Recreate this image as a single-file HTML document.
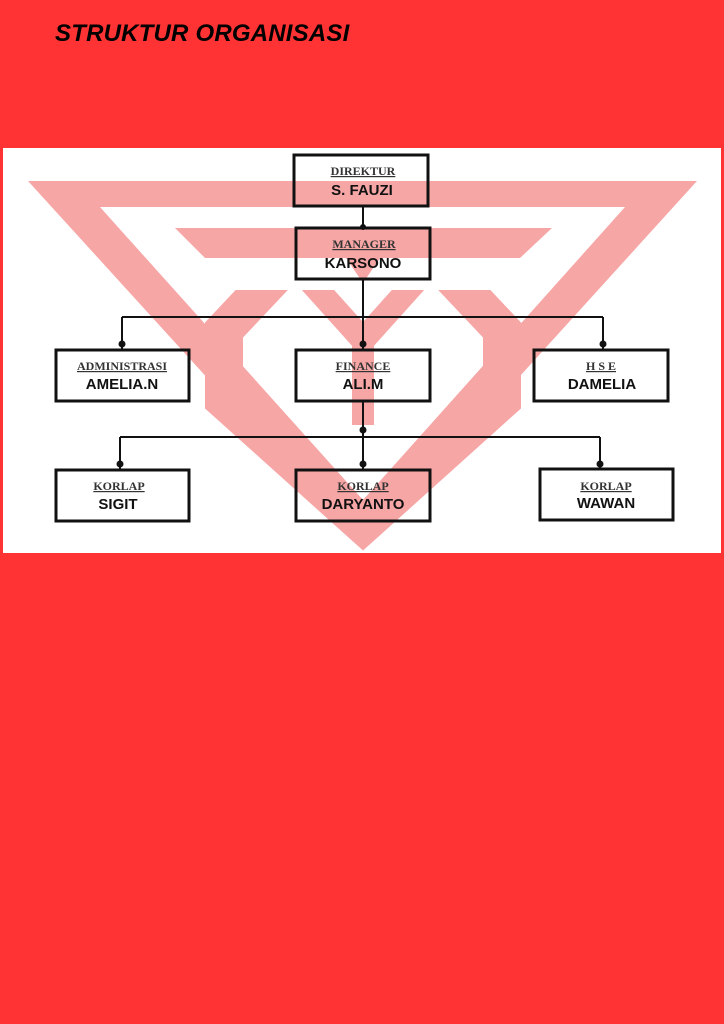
<!DOCTYPE html>
<html><head><meta charset="utf-8"><style>
body{margin:0;width:724px;height:1024px;background:#ff3333;position:relative;overflow:hidden;font-family:"Liberation Sans",sans-serif}
.t{position:absolute;left:55px;top:20px;font-size:24px;font-weight:bold;font-style:italic;color:#000;white-space:nowrap;letter-spacing:0.2px}
svg{position:absolute;left:0;top:0}
</style></head><body>
<div class="t">STRUKTUR ORGANISASI</div>
<svg width="724" height="1024" viewBox="0 0 724 1024">
<defs><clipPath id="c"><rect x="0" y="290" width="724" height="300"/></clipPath></defs>
<rect x="3" y="148" width="718" height="405" fill="#fff"/>
<g fill="#f7a6a6">
<path fill-rule="evenodd" d="M28 181 L697 181 L363 549 Z M100 207 L625 207 L363 500 Z"/>
<polygon points="175,228 552,228 520,258 380,258 363,283 346,258 205,258"/>
</g>
<g fill="none" stroke="#f7a6a6" stroke-linejoin="miter" clip-path="url(#c)">
<polyline points="290,260 224,330 224,400 363,525 502,400 502,330 436,260" stroke-width="38"/>
<polyline points="300,270 363,340 426,270" stroke-width="24"/>
<line x1="363" y1="330" x2="363" y2="425" stroke-width="22"/>
</g>
<g stroke="#111" stroke-width="2" fill="none">
<line x1="363" y1="206" x2="363" y2="228"/>
<line x1="122" y1="317" x2="603" y2="317"/>
<line x1="122" y1="317" x2="122" y2="350"/>
<line x1="363" y1="279" x2="363" y2="350"/>
<line x1="603" y1="317" x2="603" y2="350"/>
<line x1="363" y1="401" x2="363" y2="470"/>
<line x1="120" y1="437" x2="600" y2="437"/>
<line x1="120" y1="437" x2="120" y2="470"/>
<line x1="600" y1="437" x2="600" y2="469"/>
</g>
<g fill="#111">
<circle cx="363" cy="227" r="3"/>
<circle cx="122" cy="344" r="3.5"/><circle cx="363" cy="344" r="3.5"/><circle cx="603" cy="344" r="3.5"/>
<circle cx="363" cy="430" r="3.5"/>
<circle cx="120" cy="464" r="3.5"/><circle cx="363" cy="464" r="3.5"/><circle cx="600" cy="464" r="3.5"/>
</g>
<g stroke="#111" stroke-width="3" fill="none">
<rect x="294" y="155" width="134" height="51"/>
<rect x="296" y="228" width="134" height="51"/>
<rect x="56" y="350" width="133" height="51"/>
<rect x="296" y="350" width="134" height="51"/>
<rect x="534" y="350" width="134" height="51"/>
<rect x="56" y="470" width="133" height="51"/>
<rect x="296" y="470" width="134" height="51"/>
<rect x="540" y="469" width="133" height="51"/>
</g>
<g text-anchor="middle" font-family="Liberation Serif,serif" font-size="12" font-weight="bold" fill="#333" text-decoration="underline">
<text x="363" y="175">DIREKTUR</text>
<text x="364" y="248">MANAGER</text>
<text x="122" y="370">ADMINISTRASI</text>
<text x="363" y="370">FINANCE</text>
<text x="601" y="370">H S E</text>
<text x="119" y="490">KORLAP</text>
<text x="363" y="490">KORLAP</text>
<text x="606" y="490">KORLAP</text>
</g>
<g text-anchor="middle" font-family="Liberation Sans,sans-serif" font-size="15" font-weight="bold" fill="#111">
<text x="362" y="195">S. FAUZI</text>
<text x="363" y="268">KARSONO</text>
<text x="122" y="389">AMELIA.N</text>
<text x="363" y="389">ALI.M</text>
<text x="602" y="389">DAMELIA</text>
<text x="118" y="509">SIGIT</text>
<text x="363" y="509">DARYANTO</text>
<text x="606" y="508">WAWAN</text>
</g>
</svg>
</body></html>
